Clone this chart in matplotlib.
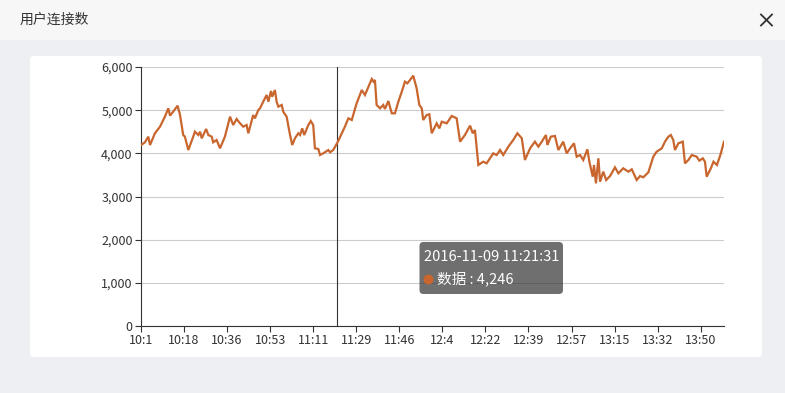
import matplotlib
matplotlib.use("Agg")
import matplotlib.pyplot as plt
from matplotlib.patches import FancyBboxPatch, Rectangle, Circle
from matplotlib.ticker import FuncFormatter

plt.rcParams['font.family'] = ['Noto Sans CJK SC', 'DejaVu Sans']

# ---------------- data ----------------
title = "用户连接数"
series_name = "数据"
# minutes since 10:01:00
minutes = [0, 1.6, 3.0, 3.7, 5.7, 7.8, 9.8, 11.2, 11.9, 13.2, 15.0, 16.0, 17.3, 18.0, 19.4,
           21.4, 22.1, 23.5, 24.2, 24.9, 26.7, 27.6, 29.0, 29.6, 31.0, 32.4, 34.4, 36.5, 37.8,
           39.2, 40.6, 41.9, 43.3, 44.0, 46.0, 46.7, 48.1, 48.8, 50.1, 51.5, 52.2, 53.3, 53.8,
           54.9, 55.6, 56.3, 57.7, 58.3, 59.7, 61.1, 62.0, 63.1, 64.5, 65.2, 66.1, 66.9, 68.6,
           69.6, 70.6, 71.3, 72.7, 73.4, 74.7, 76.8, 77.5, 78.8, 80.5, 83.6, 85.0, 86.4, 88.4,
           90.5, 91.8, 94.6, 95.3, 95.9, 96.6, 98.0, 99.3, 100.0, 101.4, 102.8, 104.1, 105.5,
           106.9, 108.2, 109.2, 110.3, 111.6, 113.0, 114.1, 115.1, 115.7, 117.1, 118.2, 119.2,
           121.2, 122.3, 123.3, 125.3, 127.4, 129.4, 130.8, 132.8, 134.9, 136.0, 136.9, 138.3,
           140.3, 141.7, 144.4, 145.8, 147.2, 148.5, 150.6, 152.6, 154.3, 156.1, 157.4, 159.5,
           161.5, 162.9, 164.3, 166.0, 166.6, 168.0, 169.7, 171.1, 173.1, 174.5, 175.9, 177.5,
           178.6, 180.0, 181.3, 183.0, 183.8, 185.2, 185.7, 186.5, 187.5, 188.2, 189.5, 190.7,
           192.3, 194.3, 195.7, 197.7, 199.8, 201.2, 203.2, 204.6, 205.9, 208.0, 210.0, 211.4,
           213.5, 214.8, 216.2, 217.2, 218.2, 218.9, 220.3, 222.1, 223.0, 224.4, 225.8, 227.8,
           228.9, 230.3, 231.2, 231.9, 233.6, 234.7, 236.1, 237.5, 239.0]
values = [4190, 4255, 4386, 4193, 4464, 4618, 4850, 5043, 4873, 4966, 5104, 4888, 4425, 4386, 4077,
          4386, 4502, 4425, 4502, 4348, 4564, 4425, 4386, 4255, 4309, 4116, 4386, 4850, 4656,
          4795, 4695, 4618, 4656, 4464, 4888, 4811, 5004, 5043, 5197, 5351, 5197, 5444, 5312,
          5467, 5197, 5081, 5120, 4966, 4850, 4425, 4193, 4348, 4464, 4425, 4579, 4425, 4656,
          4749, 4656, 4116, 4100, 3961, 4000, 4077, 4024, 4077, 4246, 4618, 4811, 4772, 5158,
          5467, 5351, 5722, 5660, 5699, 5120, 5043, 5120, 5027, 5212, 4927, 4927, 5197,
          5428, 5660, 5622, 5699, 5799, 5506, 5120, 5043, 4772, 4888, 4904, 4464,
          4695, 4579, 4733, 4695, 4865, 4811, 4270, 4425, 4641, 4464, 4541, 3730,
          3807, 3768, 4000, 3961, 4077, 3961, 4155, 4309, 4464, 4348, 3846, 4116,
          4270, 4155, 4270, 4425, 4193, 4386, 4402, 4077, 4270, 4000, 4116, 4232,
          3922, 3961, 3846, 4093, 3807, 3459, 3730, 3305, 3885, 3343, 3575, 3382,
          3475, 3676, 3537, 3653, 3575, 3630, 3382, 3475, 3444, 3560, 3922, 4039,
          4116, 4270, 4386, 4425, 4309, 4077, 4232, 4270, 3768, 3846, 3961, 3922,
          3830, 3885, 3807, 3459, 3653, 3807, 3730, 3961, 4270]
x_tick_labels = ["10:1", "10:18", "10:36", "10:53", "11:11", "11:29", "11:46", "12:4",
                 "12:22", "12:39", "12:57", "13:15", "13:32", "13:50"]
x_tick_step = 17.65  # minutes between labels
y_ticks = [0, 1000, 2000, 3000, 4000, 5000, 6000]
tooltip_time = "2016-11-09 11:21:31"
tooltip_index = 66  # index into minutes/values

# ---------------- layout ----------------
W, H = 785, 393
fig = plt.figure(figsize=(W / 100, H / 100), dpi=100)
fig.patch.set_facecolor("#eeeff3")

bg = fig.add_axes([0, 0, 1, 1], zorder=0)
bg.set_xlim(0, W)
bg.set_ylim(H, 0)
bg.axis("off")
bg.add_patch(Rectangle((0, 0), W, 40, facecolor="#f7f7f7", edgecolor="none"))
bg.add_patch(FancyBboxPatch((30, 56), 732, 301, boxstyle="round,pad=0,rounding_size=4",
                            facecolor="white", edgecolor="none"))
bg.text(20, 20, title, fontsize=10, color="#333333", va="center", ha="left")
bg.plot([761, 772], [14.5, 25.5], color="#333333", lw=1.3)
bg.plot([761, 772], [25.5, 14.5], color="#333333", lw=1.3)

line_color = "#c8662e"
ax = fig.add_axes([141 / W, (H - 326) / H, 583 / W, 259 / H], zorder=1)
ax.set_facecolor("none")
ax.plot(minutes, values, color=line_color, lw=1.6, solid_joinstyle="miter", zorder=3)
ax.set_xlim(0, 239)
ax.set_ylim(0, 6000)
ax.set_yticks(y_ticks)
ax.yaxis.set_major_formatter(FuncFormatter(lambda v, p: f"{int(v):,}"))
ax.set_xticks([k * x_tick_step for k in range(len(x_tick_labels))])
ax.set_xticklabels(x_tick_labels)
ax.grid(axis="y", color="#cccccc", lw=0.8, zorder=0)
for s in ["top", "right"]:
    ax.spines[s].set_visible(False)
for s in ["left", "bottom"]:
    ax.spines[s].set_color("#333333")
    ax.spines[s].set_linewidth(0.8)
ax.tick_params(axis="both", colors="#333333", labelsize=9, length=4, width=0.8, direction="out")
ax.tick_params(axis="x", pad=2)
ax.tick_params(axis="y", pad=2)
for lab in ax.get_xticklabels() + ax.get_yticklabels():
    lab.set_color("#333333")

# cursor line
ax.axvline(minutes[tooltip_index], color="#333333", lw=0.8, zorder=2)

# tooltip overlay
ov = fig.add_axes([0, 0, 1, 1], zorder=5)
ov.set_xlim(0, W)
ov.set_ylim(H, 0)
ov.axis("off")
ov.patch.set_alpha(0)
ov.add_patch(FancyBboxPatch((419.5, 242), 143.5, 52, boxstyle="round,pad=0,rounding_size=4",
                            facecolor=(50 / 255, 50 / 255, 50 / 255, 0.7), edgecolor="none"))
ov.text(424, 257, tooltip_time, color="white", fontsize=10.5, va="center", ha="left")
ov.add_patch(Circle((428.5, 279.5), 5, facecolor=line_color, edgecolor="none"))
ov.text(437, 279, f"{series_name} : {values[tooltip_index]:,}", color="white", fontsize=10.5,
        va="center", ha="left")

fig.savefig("out.png", dpi=100, facecolor=fig.get_facecolor())
